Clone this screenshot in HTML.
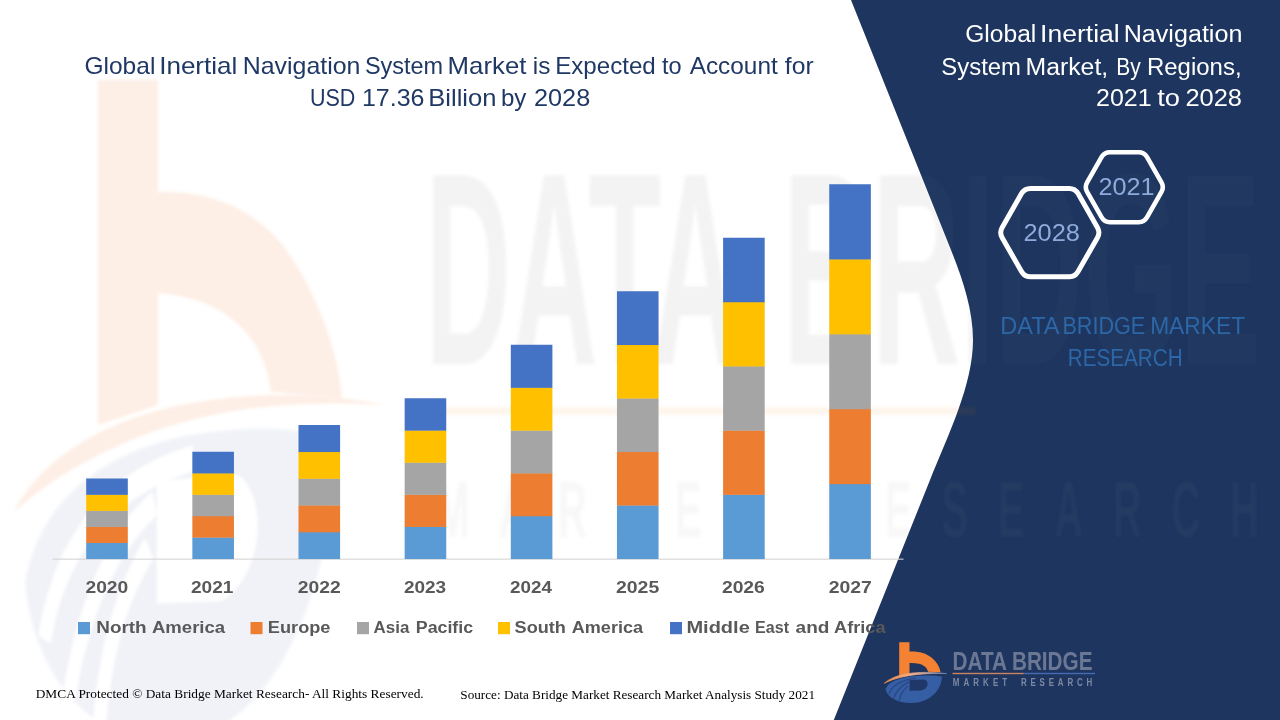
<!DOCTYPE html>
<html lang="en"><head><meta charset="utf-8"><title>Global Inertial Navigation System Market</title>
<style>
html,body{margin:0;padding:0;background:#fff;}
body{width:1280px;height:720px;overflow:hidden;position:relative;font-family:"Liberation Sans",sans-serif;}
svg{position:absolute;left:0;top:0;display:block;}
text{font-family:"Liberation Sans",sans-serif;}
.serif text,.serif{font-family:"Liberation Serif",serif;}
</style></head><body>
<svg width="1280" height="720" viewBox="0 0 1280 720">
<defs>
<linearGradient id="sw" x1="884" y1="0" x2="947" y2="0" gradientUnits="userSpaceOnUse"><stop offset="0" stop-color="#F08A4B"/><stop offset="0.45" stop-color="#F2B08A"/><stop offset="1" stop-color="#6F83AD"/></linearGradient>
<linearGradient id="sw2" x1="884" y1="0" x2="947" y2="0" gradientUnits="userSpaceOnUse"><stop offset="0" stop-color="#F08A4B"/><stop offset="0.6" stop-color="#F2B08A"/><stop offset="1" stop-color="#6F83AD"/></linearGradient>
<clipPath id="cpn"><path d="M851,0 L947,240 C960,272 973,306 973,340 C973,385 948,435 930,480 L833.8,720 L1280,720 L1280,0 Z"/></clipPath>
<clipPath id="cpw"><path d="M851,0 L947,240 C960,272 973,306 973,340 C973,385 948,435 930,480 L833.8,720 L0,720 L0,0 Z"/></clipPath>
<filter id="bl" x="-5%" y="-5%" width="110%" height="110%"><feGaussianBlur stdDeviation="1.6"/></filter>
</defs>
<rect width="1280" height="720" fill="#ffffff"/>
<!-- navy panel -->
<path id="panel" d="M851,0 L947,240 C960,272 973,306 973,340 C973,385 948,435 930,480 L833.8,720 L1280,720 L1280,0 Z" fill="#1D355F"/>
<g id="wm" filter="url(#bl)">
<g opacity="0.08" transform="matrix(5.5 0 0 11.3 -4845 -7203)">
<path d="M885.5,689 C888,682 899,677.5 915,676 C927,675 937,675.3 942,676.5 C941.5,690 930,703 911,703 C897,703 887,697 885.5,689 Z" fill="#365EA5"/>
<path d="M909.5,680 L924,679.5 C929.5,681 929,688.5 921,690.6 L909.5,690.8 Z" fill="#ffffff"/>
<path d="M889,694 C892,685 902,680 916,678 M893.5,699 C896,691 902,685 909,682 M899,701.5 C900,695 903,690 908,686" fill="none" stroke="#ffffff" stroke-width="2.2"/>
</g>
<g fill="#F07A3A" opacity="0.12">
<path d="M98,80 L158,80 L158,192 C215,190 262,212 292,258 C318,298 338,350 342,398 L271,392 C266,350 240,300 158,293 L158,405 L98,425 Z"/>
<path d="M14,512 C40,460 110,405 250,396 C300,393 350,398 385,405 C330,402 280,404 240,410 C140,425 60,470 14,512 Z"/>
</g>
<g fill="#6E6E6E" clip-path="url(#cpw)">
<text y="364" font-size="274" font-weight="bold" opacity="0.078"><tspan x="425" textLength="309" lengthAdjust="spacingAndGlyphs">DATA</tspan> <tspan x="783" textLength="478" lengthAdjust="spacingAndGlyphs">BRIDGE</tspan></text>
<text transform="translate(436,537) scale(0.5,1)" font-size="80" font-weight="bold" textLength="1646" lengthAdjust="spacing" opacity="0.05">MARKET RESEARCH</text>
</g>
<g fill="#9A9A9A" clip-path="url(#cpn)">
<text y="364" font-size="274" font-weight="bold" opacity="0.035"><tspan x="425" textLength="309" lengthAdjust="spacingAndGlyphs">DATA</tspan> <tspan x="783" textLength="478" lengthAdjust="spacingAndGlyphs">BRIDGE</tspan></text>
<text transform="translate(436,537) scale(0.5,1)" font-size="80" font-weight="bold" textLength="1646" lengthAdjust="spacing" opacity="0.055">MARKET RESEARCH</text>
</g>
<rect x="427" y="407" width="548" height="8" fill="#ED7D31" opacity="0.07"/>

</g>
<!-- axis -->
<rect x="52.5" y="558.6" width="851" height="1.1" fill="#D4D4D4"/>
<!-- bars -->
<g>
<rect x="86.20" y="542.70" width="41.6" height="16.35" fill="#5B9BD5"/>
<rect x="86.20" y="526.65" width="41.6" height="16.35" fill="#ED7D31"/>
<rect x="86.20" y="510.60" width="41.6" height="16.35" fill="#A5A5A5"/>
<rect x="86.20" y="494.55" width="41.6" height="16.35" fill="#FFC000"/>
<rect x="86.20" y="478.50" width="41.6" height="16.35" fill="#4472C4"/>
<rect x="192.35" y="537.35" width="41.6" height="21.70" fill="#5B9BD5"/>
<rect x="192.35" y="515.95" width="41.6" height="21.70" fill="#ED7D31"/>
<rect x="192.35" y="494.55" width="41.6" height="21.70" fill="#A5A5A5"/>
<rect x="192.35" y="473.15" width="41.6" height="21.70" fill="#FFC000"/>
<rect x="192.35" y="451.75" width="41.6" height="21.70" fill="#4472C4"/>
<rect x="298.50" y="532.00" width="41.6" height="27.05" fill="#5B9BD5"/>
<rect x="298.50" y="505.25" width="41.6" height="27.05" fill="#ED7D31"/>
<rect x="298.50" y="478.50" width="41.6" height="27.05" fill="#A5A5A5"/>
<rect x="298.50" y="451.75" width="41.6" height="27.05" fill="#FFC000"/>
<rect x="298.50" y="425.00" width="41.6" height="27.05" fill="#4472C4"/>
<rect x="404.65" y="526.65" width="41.6" height="32.40" fill="#5B9BD5"/>
<rect x="404.65" y="494.55" width="41.6" height="32.40" fill="#ED7D31"/>
<rect x="404.65" y="462.45" width="41.6" height="32.40" fill="#A5A5A5"/>
<rect x="404.65" y="430.35" width="41.6" height="32.40" fill="#FFC000"/>
<rect x="404.65" y="398.25" width="41.6" height="32.40" fill="#4472C4"/>
<rect x="510.80" y="515.95" width="41.6" height="43.10" fill="#5B9BD5"/>
<rect x="510.80" y="473.15" width="41.6" height="43.10" fill="#ED7D31"/>
<rect x="510.80" y="430.35" width="41.6" height="43.10" fill="#A5A5A5"/>
<rect x="510.80" y="387.55" width="41.6" height="43.10" fill="#FFC000"/>
<rect x="510.80" y="344.75" width="41.6" height="43.10" fill="#4472C4"/>
<rect x="616.95" y="505.25" width="41.6" height="53.80" fill="#5B9BD5"/>
<rect x="616.95" y="451.75" width="41.6" height="53.80" fill="#ED7D31"/>
<rect x="616.95" y="398.25" width="41.6" height="53.80" fill="#A5A5A5"/>
<rect x="616.95" y="344.75" width="41.6" height="53.80" fill="#FFC000"/>
<rect x="616.95" y="291.25" width="41.6" height="53.80" fill="#4472C4"/>
<rect x="723.10" y="494.55" width="41.6" height="64.50" fill="#5B9BD5"/>
<rect x="723.10" y="430.35" width="41.6" height="64.50" fill="#ED7D31"/>
<rect x="723.10" y="366.15" width="41.6" height="64.50" fill="#A5A5A5"/>
<rect x="723.10" y="301.95" width="41.6" height="64.50" fill="#FFC000"/>
<rect x="723.10" y="237.75" width="41.6" height="64.50" fill="#4472C4"/>
<rect x="829.25" y="483.85" width="41.6" height="75.20" fill="#5B9BD5"/>
<rect x="829.25" y="408.95" width="41.6" height="75.20" fill="#ED7D31"/>
<rect x="829.25" y="334.05" width="41.6" height="75.20" fill="#A5A5A5"/>
<rect x="829.25" y="259.15" width="41.6" height="75.20" fill="#FFC000"/>
<rect x="829.25" y="184.25" width="41.6" height="75.20" fill="#4472C4"/>
</g>
<!-- years -->
<g font-size="17.2" font-weight="bold" fill="#595959">
<text y="592.8"><tspan x="85.48" textLength="42.81" lengthAdjust="spacingAndGlyphs">2020</tspan></text>
<text y="592.8"><tspan x="190.98" textLength="42.5" lengthAdjust="spacingAndGlyphs">2021</tspan></text>
<text y="592.8"><tspan x="297.85" textLength="42.92" lengthAdjust="spacingAndGlyphs">2022</tspan></text>
<text y="592.8"><tspan x="403.91" textLength="42.17" lengthAdjust="spacingAndGlyphs">2023</tspan></text>
<text y="592.8"><tspan x="510.05" textLength="41.89" lengthAdjust="spacingAndGlyphs">2024</tspan></text>
<text y="592.8"><tspan x="615.99" textLength="43.27" lengthAdjust="spacingAndGlyphs">2025</tspan></text>
<text y="592.8"><tspan x="721.92" textLength="42.94" lengthAdjust="spacingAndGlyphs">2026</tspan></text>
<text y="592.8"><tspan x="828.67" textLength="43.18" lengthAdjust="spacingAndGlyphs">2027</tspan></text>
</g>
<!-- legend -->
<g font-size="17.2" font-weight="bold" fill="#595959">
<rect x="78" y="622" width="12" height="12.2" fill="#5B9BD5"/><text y="633.1"><tspan x="96.28" textLength="50.41" lengthAdjust="spacingAndGlyphs">North</tspan> <tspan x="151.94" textLength="73.24" lengthAdjust="spacingAndGlyphs">America</tspan></text>
<rect x="250.5" y="622" width="12" height="12.2" fill="#ED7D31"/><text y="633.1"><tspan x="267.85" textLength="62.65" lengthAdjust="spacingAndGlyphs">Europe</tspan></text>
<rect x="357" y="622" width="12" height="12.2" fill="#A5A5A5"/><text y="633.1"><tspan x="373.59" textLength="35.75" lengthAdjust="spacingAndGlyphs">Asia</tspan> <tspan x="415.77" textLength="57.35" lengthAdjust="spacingAndGlyphs">Pacific</tspan></text>
<rect x="498" y="622" width="12" height="12.2" fill="#FFC000"/><text y="633.1"><tspan x="514.63" textLength="51.28" lengthAdjust="spacingAndGlyphs">South</tspan> <tspan x="571.75" textLength="71.3" lengthAdjust="spacingAndGlyphs">America</tspan></text>
<rect x="670" y="622" width="12" height="12.2" fill="#4472C4"/><text y="633.1"><tspan x="686.45" textLength="63.35" lengthAdjust="spacingAndGlyphs">Middle</tspan> <tspan x="755.1" textLength="33.89" lengthAdjust="spacingAndGlyphs">East</tspan> <tspan x="795.62" textLength="33.83" lengthAdjust="spacingAndGlyphs">and</tspan> <tspan x="834.09" textLength="51.41" lengthAdjust="spacingAndGlyphs">Africa</tspan></text>
</g>
<!-- title -->
<g font-size="23.2" fill="#1F3864">
<text y="74.4"><tspan x="84.45" textLength="70.91" lengthAdjust="spacingAndGlyphs">Global</tspan> <tspan x="159.15" textLength="78.25" lengthAdjust="spacingAndGlyphs">Inertial</tspan> <tspan x="242.71" textLength="117.73" lengthAdjust="spacingAndGlyphs">Navigation</tspan> <tspan x="364.95" textLength="78.23" lengthAdjust="spacingAndGlyphs">System</tspan> <tspan x="447.62" textLength="78.79" lengthAdjust="spacingAndGlyphs">Market</tspan> <tspan x="532.75" textLength="17.56" lengthAdjust="spacingAndGlyphs">is</tspan> <tspan x="555.18" textLength="100.56" lengthAdjust="spacingAndGlyphs">Expected</tspan> <tspan x="662.02" textLength="19.62" lengthAdjust="spacingAndGlyphs">to</tspan> <tspan x="689.65" textLength="88.14" lengthAdjust="spacingAndGlyphs">Account</tspan> <tspan x="784.86" textLength="28.8" lengthAdjust="spacingAndGlyphs">for</tspan></text>
<text y="106.3"><tspan x="310.01" textLength="45.36" lengthAdjust="spacingAndGlyphs">USD</tspan> <tspan x="361.93" textLength="62.52" lengthAdjust="spacingAndGlyphs">17.36</tspan> <tspan x="428.3" textLength="68.1" lengthAdjust="spacingAndGlyphs">Billion</tspan> <tspan x="500.95" textLength="25.43" lengthAdjust="spacingAndGlyphs">by</tspan> <tspan x="533.99" textLength="56.23" lengthAdjust="spacingAndGlyphs">2028</tspan></text>
</g>
<!-- right title -->
<g font-size="23" fill="#ffffff">
<text y="42.4"><tspan x="965.18" textLength="71.11" lengthAdjust="spacingAndGlyphs">Global</tspan> <tspan x="1040.14" textLength="79.55" lengthAdjust="spacingAndGlyphs">Inertial</tspan> <tspan x="1123.71" textLength="118.69" lengthAdjust="spacingAndGlyphs">Navigation</tspan></text>
<text y="74.5"><tspan x="941.32" textLength="79.69" lengthAdjust="spacingAndGlyphs">System</tspan> <tspan x="1025.53" textLength="82.65" lengthAdjust="spacingAndGlyphs">Market,</tspan> <tspan x="1116.18" textLength="24.48" lengthAdjust="spacingAndGlyphs">By</tspan> <tspan x="1146.96" textLength="94.61" lengthAdjust="spacingAndGlyphs">Regions,</tspan></text>
<text y="106.2"><tspan x="1096.08" textLength="55.56" lengthAdjust="spacingAndGlyphs">2021</tspan> <tspan x="1157.21" textLength="22.76" lengthAdjust="spacingAndGlyphs">to</tspan> <tspan x="1185.42" textLength="56.61" lengthAdjust="spacingAndGlyphs">2028</tspan></text>
</g>
<!-- hexagons -->
<g fill="none" stroke="#ffffff" stroke-linejoin="round">
<path d="M1002.18,237.81 Q999.20,232.60 1002.18,227.39 L1021.52,193.61 Q1024.50,188.40 1030.50,188.40 L1069.10,188.40 Q1075.10,188.40 1078.08,193.61 L1097.42,227.39 Q1100.40,232.60 1097.42,237.81 L1078.08,271.59 Q1075.10,276.80 1069.10,276.80 L1030.50,276.80 Q1024.50,276.80 1021.52,271.59 Z" stroke-width="5"/>
<path d="M1087.13,191.98 Q1084.40,187.20 1087.13,182.42 L1101.67,156.98 Q1104.40,152.20 1109.90,152.20 L1138.70,152.20 Q1144.20,152.20 1146.93,156.98 L1161.47,182.42 Q1164.20,187.20 1161.47,191.98 L1146.93,217.42 Q1144.20,222.20 1138.70,222.20 L1109.90,222.20 Q1104.40,222.20 1101.67,217.42 Z" stroke-width="4.6"/>
</g>
<g font-size="24.2" fill="#8FAADC">
<text y="241.2"><tspan x="1023.41" textLength="56.47" lengthAdjust="spacingAndGlyphs">2028</tspan></text>
<text y="195.1"><tspan x="1098.46" textLength="56.15" lengthAdjust="spacingAndGlyphs">2021</tspan></text>
</g>
<!-- DBMR text -->
<g font-size="23" fill="#2C67A8">
<text y="334"><tspan x="1000.23" textLength="58.0" lengthAdjust="spacingAndGlyphs">DATA</tspan> <tspan x="1062.4" textLength="82.91" lengthAdjust="spacingAndGlyphs">BRIDGE</tspan> <tspan x="1150.13" textLength="95.04" lengthAdjust="spacingAndGlyphs">MARKET</tspan></text>
<text y="366.2"><tspan x="1067.76" textLength="114.92" lengthAdjust="spacingAndGlyphs">RESEARCH</tspan></text>
</g>
<g id="logo">
<path d="M885.5,689 C888,682 899,677.5 915,676 C927,675 937,675.3 942,676.5 C941.5,690 930,703 911,703 C897,703 887,697 885.5,689 Z" fill="#365EA5"/>
<path d="M909.5,680 L924,679.5 C929.5,681 929,688.5 921,690.6 L909.5,690.8 Z" fill="#20376A"/>
<path d="M889,694 C892,685 902,680 916,678 M893.5,699 C896,691 902,685 909,682 M899,701.5 C900,695 903,690 908,686" fill="none" stroke="#2A4A88" stroke-width="1.5"/>
<path d="M899.2,642.2 L909.5,642.2 L909.5,651.5 C918,651 926,653 931.5,657.5 C936.5,661.5 939.6,666.5 940.6,672.3 L928,671.8 C927.5,668 924,665 919,663.7 C916,663 912.5,662.9 909.5,663 L909.5,673.2 L899.2,676 Z" fill="#F58233"/>
<path d="M884.3,683.3 C895,674 915,670.3 946.5,673.6 C918,672.6 897,676.5 884.3,683.3 Z" fill="url(#sw)" stroke="url(#sw)" stroke-width="0.8"/>
<text x="952.5" y="670" font-size="26.2" font-weight="bold" fill="#6C7794" textLength="140" lengthAdjust="spacingAndGlyphs">DATA BRIDGE</text>
<rect x="952.5" y="672.8" width="71.3" height="1.4" fill="#CC8460"/>
<rect x="1023.8" y="672.8" width="71.2" height="1.4" fill="#476BB2"/>
<text transform="translate(952.8,686) scale(0.75,1)" font-size="10.6" font-weight="bold" fill="#7E88A3" textLength="72.4" lengthAdjust="spacing">MARKET</text>
<text transform="translate(1020.9,686) scale(0.75,1)" font-size="10.6" font-weight="bold" fill="#7E88A3" textLength="95.2" lengthAdjust="spacing">RESEARCH</text>
</g>
<!-- footer -->
<g class="serif" font-size="13.3" fill="#000000">
<text x="35.7" y="697.9" textLength="388" lengthAdjust="spacingAndGlyphs">DMCA Protected © Data Bridge Market Research- All Rights Reserved.</text>
<text x="460.3" y="698.9" textLength="354.7" lengthAdjust="spacingAndGlyphs">Source: Data Bridge Market Research Market Analysis Study 2021</text>
</g>
</svg>
</body></html>
